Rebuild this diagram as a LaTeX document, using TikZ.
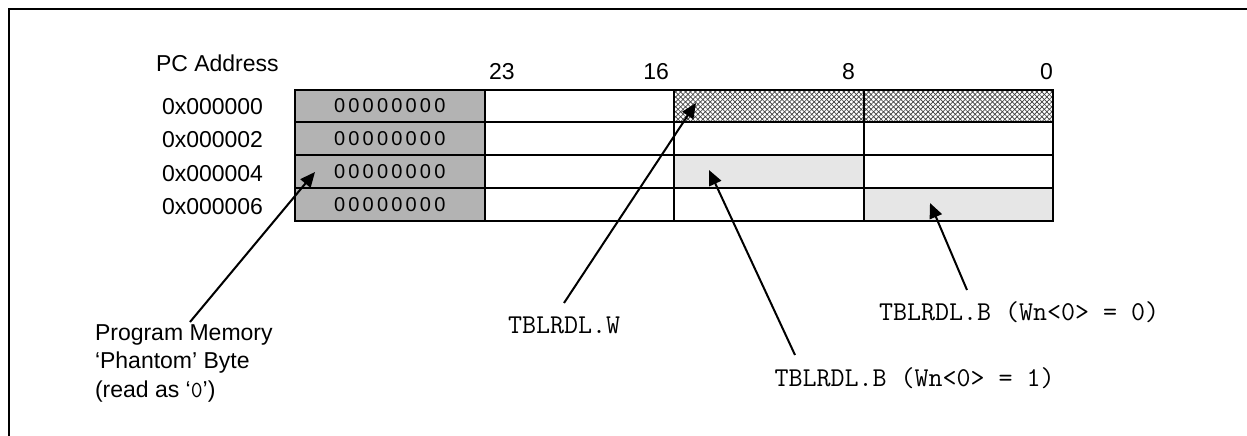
\documentclass[tikz,border=0pt]{standalone}
\usepackage{fontspec}
\setmainfont{Liberation Sans}
\newfontfamily\spacedfnt[LetterSpace=16]{Liberation Sans}
\usetikzlibrary{arrows.meta,patterns.meta}
\definecolor{darkcell}{HTML}{B3B3B3}
\definecolor{lightcell}{HTML}{E6E6E6}
\tikzset{
  lbl/.style={inner sep=0pt,outer sep=0pt,font=\fontsize{23}{28}\selectfont},
  codelbl/.style={inner sep=0pt,outer sep=0pt,font=\ttfamily\fontsize{27.2}{30}\selectfont},
  cell/.style={draw,line width=2pt,inner sep=0pt,outer sep=0pt,minimum width=189.5pt,minimum height=32.75pt},
  phcell/.style={cell,fill=darkcell,font=\spacedfnt\fontsize{20}{22}\selectfont},
  ptr/.style={line width=2pt,-{Triangle[length=15pt,width=13pt]}},
  frame/.style={line width=2.5pt}
}
\begin{document}
\begin{tikzpicture}[x=1pt,y=-1pt]
\useasboundingbox (0,0) rectangle (1247,436);
% frame
\draw[frame] (9,436) -- (9,9) -- (1247,9);
% headings
\node[lbl,anchor=base west] (pc) at (156,71.7) {PC Address};
\node[lbl,anchor=base west] (a0) at (162,114) {0x000000};
\node[lbl,anchor=base west] (a2) at (162,147) {0x000002};
\node[lbl,anchor=base west] (a4) at (162,181) {0x000004};
\node[lbl,anchor=base west] (a6) at (162,214) {0x000006};
\node[lbl,anchor=base west] (b23) at (489,80) {23};
\node[lbl,anchor=base east] (b16) at (669,80) {16};
\node[lbl,anchor=base east] (b8) at (855,80) {8};
\node[lbl,anchor=base east] (b0) at (1053,80) {0};
% cells
\foreach \r/\y in {0/105.875,1/138.625,2/171.375,3/204.125}{
  \node[phcell] (p\r) at (389.75,\y) {00000000};
  \node[cell] (u\r) at (579.25,\y) {};
}
\node[cell,fill=white] (h0) at (768.75,105.875) {};
\node[cell,fill=white] (l0) at (958.25,105.875) {};
\fill[pattern={Lines[angle=45,distance=3.5pt,line width=0.7pt]},pattern color=black!75] (h0.south west) rectangle (l0.north east);
\fill[pattern={Lines[angle=-45,distance=3.5pt,line width=0.7pt]},pattern color=black!75] (h0.south west) rectangle (l0.north east);
\draw[line width=2pt] (h0.south west) rectangle (l0.north east) (h0.north east) -- (h0.south east);
\node[cell] (h1) at (768.75,138.625) {};
\node[cell] (l1) at (958.25,138.625) {};
\node[cell,fill=lightcell] (h2) at (768.75,171.375) {};
\node[cell] (l2) at (958.25,171.375) {};
\node[cell] (h3) at (768.75,204.125) {};
\node[cell,fill=lightcell] (l3) at (958.25,204.125) {};
% labels below
\node[codelbl,anchor=base west] (tw) at (508,333) {TBLRDL.W};
\node[codelbl,anchor=base west] (tb0) at (879,320) {TBLRDL.B (Wn<0> = 0)};
\node[codelbl,anchor=base west] (tb1) at (774.5,386) {TBLRDL.B (Wn<0> = 1)};
\node[lbl,anchor=base west] (pm1) at (95,340) {Program Memory};
\node[lbl,anchor=base west] (pm2) at (95,368.5) {‘Phantom’ Byte};
\node[lbl,anchor=base west] (pm3) at (95,397) {(read as ‘{\ttfamily 0}’)};
% arrow ends
\coordinate (phT) at (190,322);
\coordinate (phH) at (315,172);
\coordinate (wT) at (564,303);
\coordinate (wH) at (696,103);
\coordinate (b1T) at (795,355);
\coordinate (b1H) at (709,170);
\coordinate (b0T) at (967,290);
\coordinate (b0H) at (930,203);
\draw[ptr] (phT) -- (phH);
\draw[ptr] (wT) -- (wH);
\draw[ptr] (b1T) -- (b1H);
\draw[ptr] (b0T) -- (b0H);
\end{tikzpicture}
\end{document}
